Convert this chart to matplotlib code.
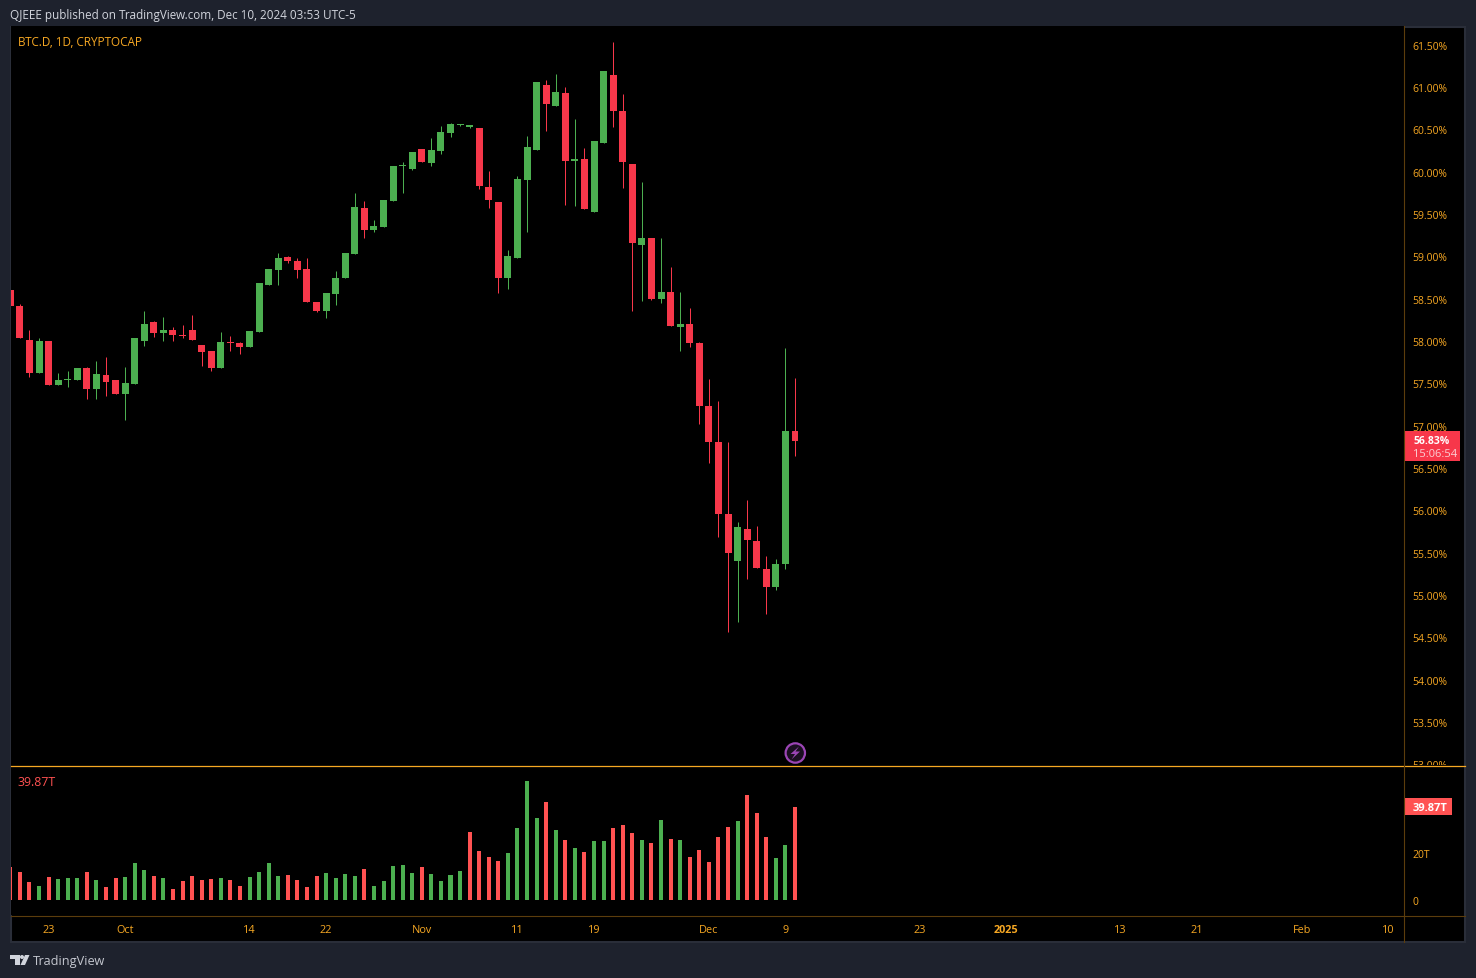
import matplotlib as mpl
mpl.use("Agg")
import matplotlib.pyplot as plt
import numpy as np
from matplotlib.lines import Line2D
from matplotlib.patches import Circle, Polygon, Rectangle
from matplotlib.transforms import Affine2D, Bbox, TransformedBbox

plt.rcParams.update({
    "font.family": "Open Sans",
    "font.size": 8
})

opens = [
    58.595, 58.406, 58.016, 57.615, 58.004, 57.473, 57.536, 57.532, 57.674, 57.426,
    57.591, 57.532, 57.378, 57.496, 58.004, 58.217, 58.087, 58.134, 58.075, 58.123,
    57.957, 57.875, 57.674, 57.981, 57.969, 57.922, 58.099, 58.665, 58.842, 58.996,
    58.949, 58.854, 58.464, 58.358, 58.559, 58.748, 59.031, 59.575, 59.315, 59.350,
    59.657, 60.071, 60.035, 60.271, 60.106, 60.248, 60.460, 60.555, 60.531, 60.519,
    59.823, 59.645, 58.748, 58.984, 59.894, 60.260, 61.027, 60.779, 60.933, 60.130,
    60.142, 59.527, 60.342, 61.134, 60.709, 60.094, 59.138, 59.209, 58.500, 58.583,
    58.158, 58.205, 57.969, 57.225, 56.800, 55.961, 55.406, 55.784, 55.642, 55.300,
    55.099, 55.359, 56.941
]
highs = [
    58.615, 58.441, 58.123, 58.028, 58.004, 57.615, 57.650, 57.674, 57.686, 57.768,
    57.815, 57.532, 57.697, 58.028, 58.347, 58.229, 58.276, 58.158, 58.193, 58.300,
    57.957, 57.875, 58.099, 58.063, 57.981, 58.111, 58.678, 58.854, 59.043, 59.008,
    58.984, 58.984, 58.464, 58.571, 58.830, 59.043, 59.752, 59.657, 59.433, 59.669,
    60.071, 60.118, 60.236, 60.271, 60.401, 60.543, 60.578, 60.567, 60.555, 60.519,
    60.012, 59.645, 59.079, 59.952, 60.425, 61.063, 61.086, 61.157, 61.004, 60.626,
    60.283, 60.366, 61.193, 61.535, 60.921, 60.094, 59.882, 59.209, 59.220, 58.878,
    58.583, 58.394, 57.992, 57.544, 57.284, 56.800, 55.855, 56.115, 55.819, 55.465,
    55.418, 57.910, 57.567
]
lows = [
    58.406, 58.028, 57.579, 57.615, 57.473, 57.473, 57.461, 57.532, 57.319, 57.308,
    57.343, 57.367, 57.071, 57.496, 57.945, 58.040, 57.993, 57.993, 58.028, 58.016,
    57.709, 57.650, 57.674, 57.886, 57.839, 57.922, 58.099, 58.665, 58.665, 58.925,
    58.748, 58.464, 58.346, 58.275, 58.429, 58.748, 59.031, 59.220, 59.291, 59.350,
    59.657, 59.752, 60.023, 60.118, 60.071, 60.212, 60.413, 60.543, 60.519, 59.799,
    59.575, 58.571, 58.618, 58.984, 59.291, 60.260, 60.484, 60.779, 59.610, 59.598,
    59.563, 59.527, 60.342, 60.531, 59.811, 58.358, 58.476, 58.488, 58.453, 58.181,
    57.886, 57.933, 57.024, 56.552, 55.678, 54.567, 54.685, 55.193, 55.323, 54.780,
    55.063, 55.311, 56.646
]
closes = [
    58.406, 58.028, 57.615, 58.004, 57.473, 57.532, 57.544, 57.674, 57.426, 57.603,
    57.520, 57.367, 57.508, 58.028, 58.205, 58.087, 58.134, 58.075, 58.052, 58.016,
    57.863, 57.674, 57.981, 57.973, 57.922, 58.111, 58.678, 58.854, 58.984, 58.949,
    58.842, 58.464, 58.358, 58.571, 58.748, 59.043, 59.586, 59.315, 59.362, 59.669,
    60.071, 60.082, 60.236, 60.118, 60.260, 60.472, 60.567, 60.567, 60.555, 59.834,
    59.669, 58.748, 59.008, 59.917, 60.295, 61.063, 60.803, 60.945, 60.130, 60.142,
    59.563, 60.366, 61.193, 60.720, 60.118, 59.150, 59.209, 58.500, 58.583, 58.181,
    58.205, 57.969, 57.225, 56.800, 55.961, 55.500, 55.796, 55.654, 55.323, 55.099,
    55.370, 56.941, 56.823
]
# volume in trillions
volumes = [
    14.2, 12.0, 7.7, 6.0, 9.9, 9.0, 9.4, 9.4, 12.0, 8.6,
    5.6, 9.4, 9.9, 15.9, 12.9, 10.3, 9.4, 4.7, 8.2, 10.3,
    8.6, 9.0, 9.4, 8.6, 6.0, 9.9, 12.0, 15.9, 10.3, 10.7,
    8.6, 5.6, 10.3, 11.6, 9.4, 11.2, 10.3, 13.3, 6.0, 8.2,
    14.6, 15.0, 11.6, 14.2, 11.2, 8.2, 10.7, 12.4, 29.2, 21.0,
    18.5, 16.7, 20.2, 30.9, 51.1, 35.2, 42.1, 30.1, 25.8, 22.3,
    20.6, 25.3, 25.3, 30.9, 32.2, 28.8, 25.8, 24.5, 34.3, 26.2,
    25.8, 18.5, 21.5, 16.3, 27.0, 31.3, 33.9, 45.1, 37.3, 27.0,
    18.0, 23.6, 39.87
]
# bars whose volume colour differs from the candle colour
volume_red_override = [48]

price_ticks = [53 + 0.5 * n for n in range(18)]
volume_ticks = [0, 20]
volume_tick_labels = ["0", "20T"]
date_pos = [4, 12, 25, 33, 43, 53, 61, 73, 81, 95, 104, 116, 124, 135, 144]
date_labels = ["23", "Oct", "14", "22", "Nov", "11", "19", "Dec", "9", "23", "2025", "13", "21", "Feb", "10"]

BG = "#1e222d"
BORDER = "#2a2e39"
ORANGE = "#f7a823"
DIM = "#5c3d0c"
RED = "#f7374a"
GREEN = "#4caf50"
VRED = "#ff5252"
W, H = 1476, 979

fig = plt.figure(figsize=(W / 100, H / 100), dpi=100, facecolor=BG)
# pixel coordinates, origin top left
px = Affine2D().scale(1, -1).translate(0, H)


def axes_rect(x0, y0, x1, y1):
    return [x0 / W, (H - y1) / H, (x1 - x0) / W, (y1 - y0) / H]


fig.add_artist(Rectangle((10.5, 27.5), 1454.5, 915.5, transform=px, facecolor="black",
                         edgecolor=BORDER, linewidth=1.5, zorder=-1))

ax = fig.add_axes(axes_rect(10.5, 27, 1404, 766.5), facecolor="black")
ax_vol = fig.add_axes(axes_rect(10.5, 766.5, 1404, 916), facecolor="black")

x = np.arange(len(closes))
opens_a, closes_a = np.array(opens), np.array(closes)
up = closes_a >= opens_a
colors = [GREEN if u else RED for u in up]

wicks = ax.vlines(x, lows, highs, colors=colors, linewidth=0.72)
wicks.set_snap(True)
ax.bar(x, np.abs(closes_a - opens_a), bottom=np.minimum(opens_a, closes_a),
       width=0.73, color=colors, linewidth=0)

vol_colors = [GREEN if u else VRED for u in up]
for i in volume_red_override:
    vol_colors[i] = VRED
ax_vol.bar(x, volumes, width=0.42, color=vol_colors, linewidth=0)

xlim = (0.02, 145.64)
for a in (ax, ax_vol):
    a.set_xlim(*xlim)
    for s in a.spines.values():
        s.set_visible(False)
ax.set_ylim(52.985, 61.7186)
ax_vol.set_ylim(-6.44, 57.7)

ax.set_xticks([])
ax.yaxis.tick_right()
ax.set_yticks(price_ticks)
ax.set_yticklabels([f"{t:.2f}%" for t in price_ticks])
ax.tick_params(axis="y", length=0, pad=6.2, labelcolor=ORANGE, labelsize=7.5)
# 53.00% is cut off by the volume pane
clip = TransformedBbox(Bbox.from_extents(0, (H - 766) / H, 1, 1), fig.transFigure)
for label in ax.get_yticklabels():
    label.set_clip_box(clip)
    label.set_clip_on(True)

ax_vol.yaxis.tick_right()
ax_vol.set_yticks(volume_ticks)
ax_vol.set_yticklabels(volume_tick_labels)
ax_vol.tick_params(axis="y", length=0, pad=6.2, labelcolor=ORANGE, labelsize=7.5)
ax_vol.set_xticks(date_pos)
ax_vol.set_xticklabels(date_labels)
ax_vol.tick_params(axis="x", length=0, pad=6.8, labelcolor=ORANGE, labelsize=7.8)
for label in ax_vol.get_xticklabels():
    if label.get_text() == "2025":
        label.set_fontweight("bold")

# pane separators
fig.add_artist(Line2D([10.5, 1465], [766.5, 766.5], transform=px, color=ORANGE, linewidth=0.9))
fig.add_artist(Line2D([10.5, 1465], [916.5, 916.5], transform=px, color=DIM, linewidth=0.8))
fig.add_artist(Line2D([1404, 1404], [27, 943], transform=px, color=DIM, linewidth=0.8))

# header and legends
fig.text(10, 15.5, "QJEEE published on TradingView.com, Dec 10, 2024 03:53 UTC-5", transform=px,
         color="#d1d4dc", fontsize=8.45, va="center", ha="left")
fig.text(18, 42.5, "BTC.D, 1D, CRYPTOCAP", transform=px, color=ORANGE, fontsize=8.5, va="center")
fig.text(17.5, 782.5, "39.87T", transform=px, color=VRED, fontsize=8.9, va="center")

# last price badges
fig.add_artist(Rectangle((1405, 432), 55, 30, transform=px, facecolor=RED, edgecolor="none"))
fig.text(1413, 441.5, "56.83%", transform=px, color="white", fontsize=7.5, fontweight="bold", va="center")
fig.text(1413, 454.5, "15:06:54", transform=px, color="#fbd0d5", fontsize=8, va="center")
fig.add_artist(Rectangle((1405, 799), 47, 17, transform=px, facecolor=VRED, edgecolor="none"))
fig.text(1413, 808.5, "39.87T", transform=px, color="white", fontsize=8, fontweight="bold", va="center")

# lightning marker
fig.add_artist(Circle((795.3, 754), 9.7, transform=px, facecolor="#1a0f20",
                      edgecolor="#9b45b5", linewidth=1.6))
fig.add_artist(Polygon([(799, 747.5), (790.5, 755), (795, 755), (791.5, 760.5),
                        (800, 752.5), (795.5, 752.5)], transform=px,
                       facecolor="#9b45b5", edgecolor="none"))

# TradingView logo
logo = "#d1d4dc"
fig.add_artist(Polygon([(10, 956), (19.5, 956), (19.5, 966), (15, 966), (15, 960), (10, 960)],
                       transform=px, facecolor=logo, edgecolor="none"))
fig.add_artist(Circle((22, 958), 2, transform=px, facecolor=logo, edgecolor="none"))
fig.add_artist(Polygon([(25, 956), (29.5, 956), (25, 966), (20.5, 966)],
                       transform=px, facecolor=logo, edgecolor="none"))
fig.text(33, 961.5, "TradingView", transform=px, color="#c3c6ce", fontsize=9.2, va="center")

fig.savefig("out.png", dpi=100, facecolor=BG)
plt.close(fig)
